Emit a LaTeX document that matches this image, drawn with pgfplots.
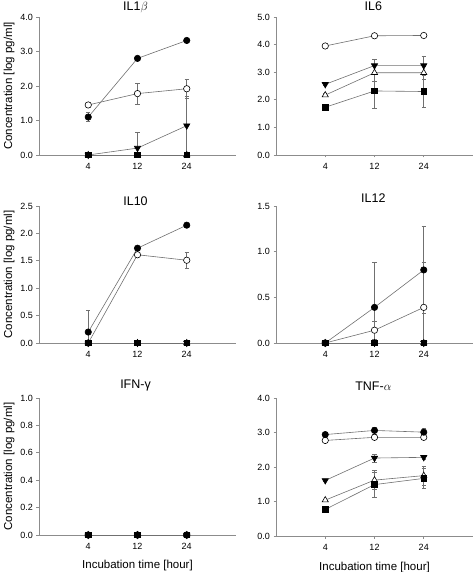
\documentclass[border=0pt]{standalone}
\usepackage{fontspec}
\setmainfont{Liberation Sans}
\usepackage{pgfplots}
\pgfplotsset{compat=1.18}
\definecolor{axgray}{HTML}{8C8C8C}
\definecolor{lngray}{HTML}{707070}
\pgfplotsset{
  panel/.style={
    scale only axis, width=197pt,
    xmin=0, xmax=4, ymin=0,
    axis x line*=bottom, axis y line*=left,
    axis line style={axgray, -, line width=0.6pt},
    xtick={1,2,3}, xticklabels={4,12,24},
    tick style={axgray, line width=0.6pt},
    tick align=outside, major tick length=2.5pt,
    /pgf/number format/assume math mode=true,
    tick label style={font=\fontsize{9}{9}\selectfont},
    xticklabel style={yshift=-2pt},
    yticklabel style={/pgf/number format/.cd, fixed, fixed zerofill, precision=1},
    clip=false,
    every axis title/.style={anchor=center, font=\fontsize{12.5}{13}\selectfont},
    every axis y label/.style={at={(axis description cs:-0.152,0.5)}, rotate=90, anchor=center, font=\fontsize{11.5}{12}\selectfont},
    every axis x label/.style={at={(axis description cs:0.5,-0.226)}, anchor=center, font=\fontsize{11.5}{12}\selectfont},
    every axis plot/.append style={lngray, line width=0.6pt},
  },
  eb/.style={error bars/.cd, y dir=both, y explicit,
    error bar style={lngray, line width=0.6pt},
    error mark options={rotate=90, lngray, mark size=2.2pt, line width=0.6pt}},
  ocirc/.style={mark=*, mark size=3.2pt, mark options={draw=black, fill=white, line width=0.6pt}},
  fcirc/.style={mark=*, mark size=3.2pt, mark options={draw=black, fill=black}},
  dtri/.style={mark=triangle*, mark size=3.6pt, mark options={draw=black, fill=black, rotate=180}},
  otri/.style={mark=triangle*, mark size=3.6pt, mark options={draw=black, fill=white, line width=0.6pt}},
  sq/.style={mark=square*, mark size=2.8pt, mark options={draw=black, fill=black}},
}
\begin{document}
\begin{tikzpicture}
\path[use as bounding box] (0,0) rectangle (474pt,572pt);

% ---------- IL1beta ----------
\begin{axis}[panel, at={(39pt,417pt)}, anchor=south west, height=138pt,
  ymax=4, ytick={0,1,2,3,4},
  title={IL1$\beta$}, title style={at={(axis description cs:0.49,1.071)}},
  ylabel={Concentration [log pg/ml]}]
\addplot[ocirc, eb] table[x=x, y=y, y error plus=ep, y error minus=em] {
x y ep em
1 1.45 0.08 0.08
2 1.78 0.31 0.31
3 1.92 0.28 0.28
};
\addplot[fcirc, eb] table[x=x, y=y, y error plus=ep, y error minus=em] {
x y ep em
1 1.10 0.13 0.13
2 2.80 0.05 0.05
3 3.32 0.04 0.04
};
\addplot[otri] table[x=x, y=y] {
x y
1 0
2 0
3 0
};
\addplot[dtri, eb] table[x=x, y=y, y error plus=ep, y error minus=em] {
x y ep em
1 0.00 0.00 0.00
2 0.20 0.45 0.20
3 0.85 0.85 0.85
};
\addplot[sq] table[x=x, y=y] {
x y
1 0
2 0
3 0
};
\end{axis}

% ---------- IL6 ----------
\begin{axis}[panel, at={(276pt,417pt)}, anchor=south west, height=138pt,
  ymax=5, ytick={0,1,2,3,4,5},
  title={IL6}, title style={at={(axis description cs:0.494,1.081)}}]
\addplot[ocirc, eb] table[x=x, y=y, y error plus=ep, y error minus=em] {
x y ep em
1 3.95 0.04 0.04
2 4.32 0.04 0.04
3 4.33 0.04 0.04
};
\addplot[sq, eb] table[x=x, y=y, y error plus=ep, y error minus=em] {
x y ep em
1 1.73 0.05 0.05
2 2.32 0.62 0.62
3 2.30 0.57 0.57
};
\addplot[otri, eb] table[x=x, y=y, y error plus=ep, y error minus=em] {
x y ep em
1 2.17 0.05 0.05
2 2.98 0.30 0.30
3 2.98 0.25 0.25
};
\addplot[dtri, eb] table[x=x, y=y, y error plus=ep, y error minus=em] {
x y ep em
1 2.56 0.05 0.05
2 3.24 0.23 0.23
3 3.24 0.32 0.32
};
\end{axis}

% ---------- IL10 ----------
\begin{axis}[panel, at={(39pt,229pt)}, anchor=south west, height=137pt,
  ymax=2.5, ytick={0,0.5,1,1.5,2,2.5},
  title={IL10}, title style={at={(axis description cs:0.49,1.035)}},
  ylabel={Concentration [log pg/ml]}]
\addplot[ocirc, eb] table[x=x, y=y, y error plus=ep, y error minus=em] {
x y ep em
1 0.00 0.00 0.00
2 1.61 0.03 0.03
3 1.51 0.15 0.15
};
\addplot[fcirc, eb] table[x=x, y=y, y error plus=ep, y error minus=em] {
x y ep em
1 0.20 0.40 0.20
2 1.73 0.02 0.02
3 2.15 0.02 0.02
};
\addplot[otri] table[x=x, y=y] {
x y
1 0
2 0
3 0
};
\addplot[dtri] table[x=x, y=y] {
x y
1 0
2 0
3 0
};
\addplot[sq] table[x=x, y=y] {
x y
1 0
2 0
3 0
};
\end{axis}

% ---------- IL12 ----------
\begin{axis}[panel, at={(276pt,229pt)}, anchor=south west, height=137pt,
  ymax=1.5, ytick={0,0.5,1,1.5},
  title={IL12}, title style={at={(axis description cs:0.494,1.06)}}]
\addplot[ocirc, eb] table[x=x, y=y, y error plus=ep, y error minus=em] {
x y ep em
1 0.00 0.00 0.00
2 0.14 0.10 0.10
3 0.39 0.49 0.39
};
\addplot[fcirc, eb] table[x=x, y=y, y error plus=ep, y error minus=em] {
x y ep em
1 0.00 0.00 0.00
2 0.39 0.49 0.39
3 0.80 0.48 0.48
};
\addplot[otri] table[x=x, y=y] {
x y
1 0
2 0
3 0
};
\addplot[dtri] table[x=x, y=y] {
x y
1 0
2 0
3 0
};
\addplot[sq] table[x=x, y=y] {
x y
1 0
2 0
3 0
};
\end{axis}

% ---------- IFN-gamma ----------
\begin{axis}[panel, at={(39pt,37pt)}, anchor=south west, height=137pt,
  ymax=1, ytick={0,0.2,0.4,0.6,0.8,1},
  title={IFN-γ}, title style={at={(axis description cs:0.49,1.09)}},
  ylabel={Concentration [log pg/ml]},
  xlabel={Incubation time [hour]}]
\addplot[ocirc] table[x=x, y=y] {
x y
1 0
2 0
3 0
};
\addplot[fcirc] table[x=x, y=y] {
x y
1 0
2 0
3 0
};
\addplot[otri] table[x=x, y=y] {
x y
1 0
2 0
3 0
};
\addplot[dtri] table[x=x, y=y] {
x y
1 0
2 0
3 0
};
\addplot[sq] table[x=x, y=y] {
x y
1 0
2 0
3 0
};
\end{axis}

% ---------- TNF-alpha ----------
\begin{axis}[panel, at={(276pt,36pt)}, anchor=south west, height=138pt,
  ymax=4, ytick={0,1,2,3,4},
  title={TNF-$\alpha$}, title style={at={(axis description cs:0.494,1.082)}},
  xlabel={Incubation time [hour]}]
\addplot[ocirc, eb] table[x=x, y=y, y error plus=ep, y error minus=em] {
x y ep em
1 2.77 0.05 0.05
2 2.86 0.05 0.05
3 2.86 0.05 0.05
};
\addplot[fcirc, eb] table[x=x, y=y, y error plus=ep, y error minus=em] {
x y ep em
1 2.94 0.08 0.08
2 3.06 0.10 0.10
3 3.01 0.12 0.12
};
\addplot[otri, eb] table[x=x, y=y, y error plus=ep, y error minus=em] {
x y ep em
1 1.04 0.03 0.03
2 1.62 0.28 0.28
3 1.75 0.27 0.27
};
\addplot[dtri, eb] table[x=x, y=y, y error plus=ep, y error minus=em] {
x y ep em
1 1.61 0.03 0.03
2 2.26 0.12 0.12
3 2.28 0.05 0.05
};
\addplot[sq, eb] table[x=x, y=y, y error plus=ep, y error minus=em] {
x y ep em
1 0.77 0.03 0.03
2 1.49 0.37 0.37
3 1.67 0.30 0.30
};
\end{axis}
\end{tikzpicture}
\end{document}
